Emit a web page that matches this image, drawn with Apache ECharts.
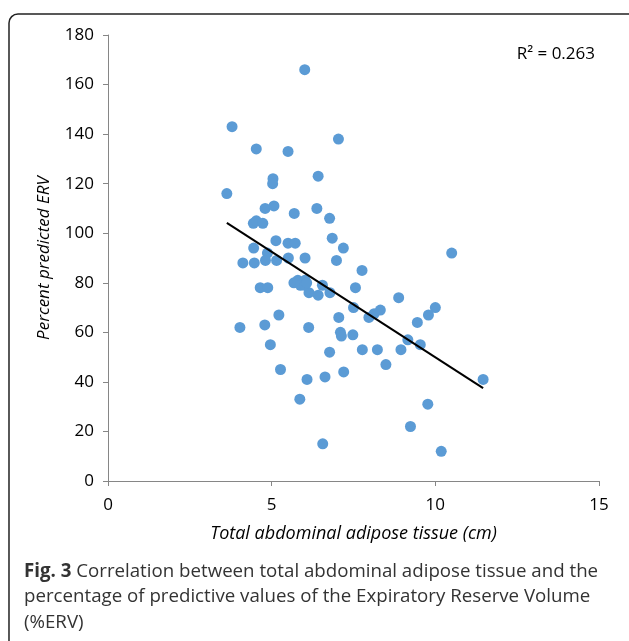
<!DOCTYPE html>
<html>
<head>
<meta charset="utf-8">
<script src="https://cdn.jsdelivr.net/npm/echarts@6/dist/echarts.min.js"></script>
<style>
html,body{margin:0;padding:0;background:#fff;}
#c{width:629px;height:641px;}
</style>
</head>
<body>
<div id="c"></div>
<script>
// Data
var xValues = [6.01,3.79,7.04,4.53,5.50,5.04,5.03,6.42,3.63,4.80,5.07,6.38,5.69,6.77,4.44,4.53,4.73,6.85,5.13,5.50,5.72,7.19,4.45,4.87,10.50,4.12,4.47,4.81,5.15,5.51,6.02,6.98,7.76,4.65,4.88,5.68,5.80,6.02,5.88,6.02,6.14,6.42,6.55,6.78,7.56,8.88,7.50,10.00,8.32,8.13,5.22,7.05,7.97,9.79,9.45,4.03,4.79,6.13,7.10,7.13,7.48,9.16,4.96,9.54,7.77,8.23,8.95,6.77,8.49,5.27,7.20,6.08,6.63,11.46,5.86,9.77,9.24,10.18,6.56,6.07];
var yValues = [166,143,138,134,133,122,120,123,116,110,111,110,108,106,104,105,104,98,97,96,96,94,94,92,92,88,88,89,89,90,90,89,85,78,78,80,81,81,79,79,76,75,79,76,78,74,70,70,69,67.5,67,66,66,67,64,62,63,62,60,58.5,59,57,55,55,53,53,53,52,47,45,44,41,42,41,33,31,22,12,15,80];
var trendIntercept = 135.1;
var trendSlope = -8.52;
var rSquaredText = 'R\u00b2 = 0.263';
var xTicks = {min:0, max:15, interval:5};
var yTicks = {min:0, max:180, interval:20};
var xAxisTitle = 'Total abdominal adipose tissue (cm)';
var yAxisTitle = 'Percent predicted ERV';
var captionBold = 'Fig. 3';
var captionLines = [' Correlation between total abdominal adipose tissue and the','percentage of predictive values of the Expiratory Reserve Volume','(%ERV)'];

var points = xValues.map(function(x,i){return [x,yValues[i]];});
var xMin = Math.min.apply(null,xValues), xMax = Math.max.apply(null,xValues);
var trend = [[xMin, trendIntercept + trendSlope*xMin],[xMax, trendIntercept + trendSlope*xMax]];

var font = '"Open Sans", "Noto Sans", sans-serif';
var chart = echarts.init(document.getElementById('c'), null, {renderer:'canvas'});
chart.setOption({
  animation:false,
  backgroundColor:'#fff',
  grid:{left:108,right:30,top:35,bottom:160,containLabel:false},
  xAxis:{
    type:'value', min:xTicks.min, max:xTicks.max, interval:xTicks.interval,
    name:xAxisTitle, nameLocation:'middle', nameGap:44,
    nameTextStyle:{fontFamily:font,fontStyle:'italic',fontSize:18,color:'#000'},
    axisLine:{show:true,lineStyle:{color:'#868686',width:1}},
    axisTick:{show:true,length:5,inside:false,lineStyle:{color:'#868686'}},
    axisLabel:{fontFamily:font,fontSize:17,color:'#000',margin:16},
    splitLine:{show:false}
  },
  yAxis:{
    type:'value', min:yTicks.min, max:yTicks.max, interval:yTicks.interval,
    name:yAxisTitle, nameLocation:'middle', nameGap:55,
    nameTextStyle:{fontFamily:font,fontStyle:'italic',fontSize:17,color:'#000'},
    axisLine:{show:true,lineStyle:{color:'#868686',width:1}},
    axisTick:{show:true,length:5,inside:false,lineStyle:{color:'#868686'}},
    axisLabel:{fontFamily:font,fontSize:17,color:'#000',margin:14},
    splitLine:{show:false}
  },
  series:[
    {type:'scatter',data:points,symbol:'circle',symbolSize:11,
     itemStyle:{color:'#5b9bd5',opacity:1},z:2},
    {type:'line',data:trend,symbol:'none',lineStyle:{color:'#000',width:2},z:3,silent:true}
  ],
  graphic:[
    {type:'rect',shape:{x:9,y:14,width:650,height:680,r:9},
     style:{fill:'none',stroke:'#222',lineWidth:1.5},silent:true},
    {type:'text',x:595,y:54,style:{text:rSquaredText,font:'17px '+font,fill:'#000',textAlign:'right',textVerticalAlign:'middle'}},
    {type:'text',x:24,y:597,style:{
      text:'{b|'+captionBold+'}{n|'+captionLines[0]+'}\n{n|'+captionLines[1]+'}\n{n|'+captionLines[2]+'}',
      rich:{b:{fontFamily:font,fontWeight:'bold',fontSize:18.7,fill:'#333',lineHeight:25.5},
            n:{fontFamily:font,fontSize:18.7,fill:'#333',lineHeight:25.5}},
      textVerticalAlign:'middle'}}
  ]
});
</script>
</body>
</html>
